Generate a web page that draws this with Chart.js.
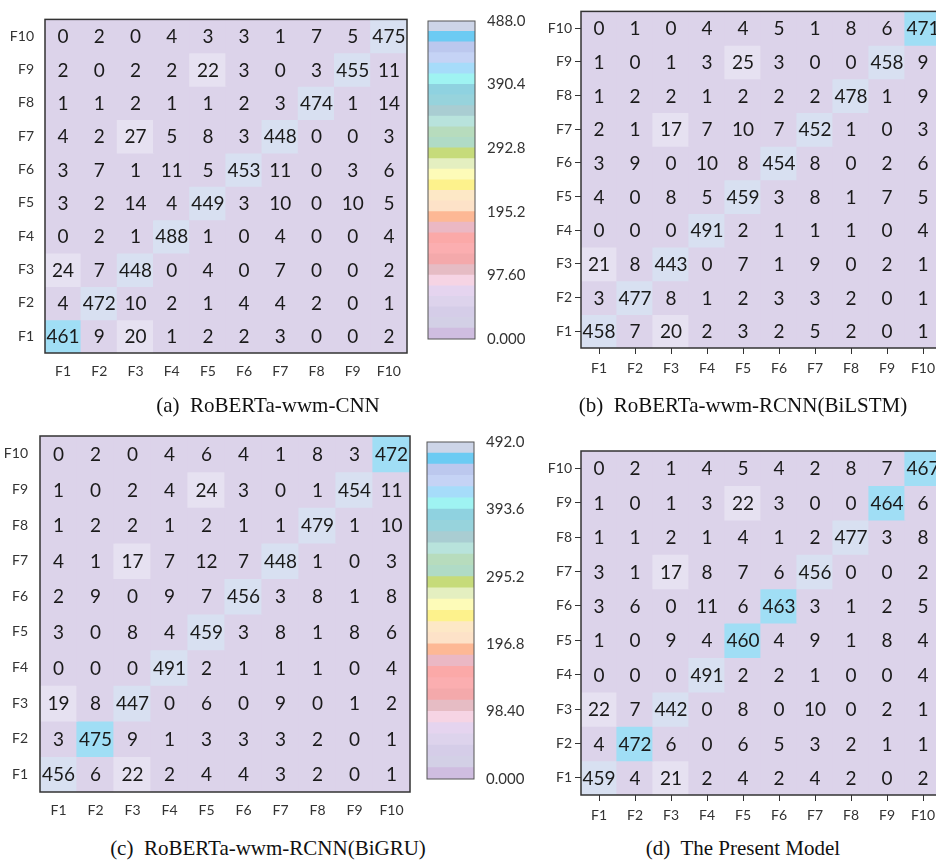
<!DOCTYPE html>
<html><head><meta charset="utf-8">
<script src="https://cdn.jsdelivr.net/npm/chart.js@4.4.1/dist/chart.umd.min.js"></script>
<style>
html,body{margin:0;padding:0;background:#fff;overflow:hidden;width:936px;height:861px;position:relative;}
canvas{position:absolute;}
.cap{position:absolute;font-family:"Liberation Serif","Times New Roman",serif;font-size:21px;line-height:24px;text-align:center;color:#111;white-space:pre;}
</style></head><body>
<canvas id="ma" width="420" height="390" style="left:0;top:0"></canvas>
<canvas id="cba" width="110" height="360" style="left:420px;top:0"></canvas>
<canvas id="mb" width="420" height="390" style="left:530px;top:0"></canvas>
<canvas id="mc" width="420" height="430" style="left:0;top:400px"></canvas>
<canvas id="cbc" width="110" height="400" style="left:420px;top:400px"></canvas>
<canvas id="md" width="420" height="430" style="left:530px;top:400px"></canvas>
<div class="cap" style="left:0;top:393px;width:536px">(a)  RoBERTa-wwm-CNN</div>
<div class="cap" style="left:486px;top:393px;width:514px">(b)  RoBERTa-wwm-RCNN(BiLSTM)</div>
<div class="cap" style="left:0;top:836px;width:536px">(c)  RoBERTa-wwm-RCNN(BiGRU)</div>
<div class="cap" style="left:486px;top:836px;width:514px">(d)  The Present Model</div>
<script>
// ---- data ----
const colLabels = ['F1','F2','F3','F4','F5','F6','F7','F8','F9','F10'];
const rowLabels = ['F10','F9','F8','F7','F6','F5','F4','F3','F2','F1']; // top to bottom

const cnnRows = [
  [0,2,0,4,3,3,1,7,5,475],
  [2,0,2,2,22,3,0,3,455,11],
  [1,1,2,1,1,2,3,474,1,14],
  [4,2,27,5,8,3,448,0,0,3],
  [3,7,1,11,5,453,11,0,3,6],
  [3,2,14,4,449,3,10,0,10,5],
  [0,2,1,488,1,0,4,0,0,4],
  [24,7,448,0,4,0,7,0,0,2],
  [4,472,10,2,1,4,4,2,0,1],
  [461,9,20,1,2,2,3,0,0,2]
];
const bilstmRows = [
  [0,1,0,4,4,5,1,8,6,471],
  [1,0,1,3,25,3,0,0,458,9],
  [1,2,2,1,2,2,2,478,1,9],
  [2,1,17,7,10,7,452,1,0,3],
  [3,9,0,10,8,454,8,0,2,6],
  [4,0,8,5,459,3,8,1,7,5],
  [0,0,0,491,2,1,1,1,0,4],
  [21,8,443,0,7,1,9,0,2,1],
  [3,477,8,1,2,3,3,2,0,1],
  [458,7,20,2,3,2,5,2,0,1]
];
const bigruRows = [
  [0,2,0,4,6,4,1,8,3,472],
  [1,0,2,4,24,3,0,1,454,11],
  [1,2,2,1,2,1,1,479,1,10],
  [4,1,17,7,12,7,448,1,0,3],
  [2,9,0,9,7,456,3,8,1,8],
  [3,0,8,4,459,3,8,1,8,6],
  [0,0,0,491,2,1,1,1,0,4],
  [19,8,447,0,6,0,9,0,1,2],
  [3,475,9,1,3,3,3,2,0,1],
  [456,6,22,2,4,4,3,2,0,1]
];
const presentRows = [
  [0,2,1,4,5,4,2,8,7,467],
  [1,0,1,3,22,3,0,0,464,6],
  [1,1,2,1,4,1,2,477,3,8],
  [3,1,17,8,7,6,456,0,0,2],
  [3,6,0,11,6,463,3,1,2,5],
  [1,0,9,4,460,4,9,1,8,4],
  [0,0,0,491,2,2,1,0,0,4],
  [22,7,442,0,8,0,10,0,2,1],
  [4,472,6,0,6,5,3,2,1,1],
  [459,4,21,2,4,2,4,2,0,2]
];
// diagonal cells drawn in bright cyan
const cnnHighlight = ['F1'];
const bilstmHighlight = ['F10'];
const bigruHighlight = ['F10','F2'];
const presentHighlight = ['F10','F9','F6','F5','F2'];

// colour bar bands, top to bottom
const cbColors = ['#cdd5e8','#6ccbf3','#bcc8ee','#c5d3f5','#a6dcfa','#9ff3f2','#8fd2e0','#97d3dc','#a9cdd2','#b8e3dc',
  '#b7dcbd','#b0dbc6','#c6db7a','#e4efc0','#fdfbb8','#fdf28c','#fde8c6','#fde2c8','#fdb895','#ebb8c4',
  '#fba9a8','#fbaeb0','#f4a9ab','#e6bcc4','#f6d4e4','#e5d4ef','#ddd3ec','#d5cde8','#d3d0e6','#cfbde0'];
const cbTicksA = [0,97.6,195.2,292.8,390.4,488];
const cbTextA = ['0.000','97.60','195.2','292.8','390.4','488.0'];
const cbTicksC = [0,98.4,196.8,295.2,393.6,492];
const cbTextC = ['0.000','98.40','196.8','295.2','393.6','492.0'];

// ---- drawing ----
Chart.defaults.font.family = 'Lato';
Chart.defaults.animation = false;

function cellFill(v, hi) {
  if (hi) return '#a0def5';
  if (v >= 400) return '#d8e0f1';
  if (v >= 15) return '#e6e1f1';
  return '#dcd3ea';
}

const cellText = {
  id: 'cellText',
  afterDatasetsDraw(chart) {
    const ctx = chart.ctx;
    ctx.save();
    ctx.font = '19px Lato';
    ctx.fillStyle = '#1a1a1a';
    ctx.textAlign = 'center';
    ctx.textBaseline = 'middle';
    chart.data.datasets.forEach((ds, di) => {
      chart.getDatasetMeta(di).data.forEach((el, j) => {
        const p = el.getProps(['x','y','base'], true);
        ctx.fillText(String(ds.counts[j]), p.x, (p.y + p.base) / 2 + 1);
      });
    });
    ctx.restore();
  }
};
const frame = {
  id: 'frame',
  afterDraw(chart, args, opts) {
    const a = chart.chartArea, ctx = chart.ctx;
    ctx.save();
    ctx.strokeStyle = opts.color || '#333';
    ctx.lineWidth = opts.width || 1.5;
    ctx.strokeRect(a.left, a.top, a.right - a.left, a.bottom - a.top);
    ctx.restore();
  }
};

function makeMatrix(id, rows, hi, L) {
  const n = rows.length;
  const datasets = rows.map((row, i) => {
    const yb = n - 1 - i;
    return {
      data: row.map(() => [yb, yb + 1]),
      counts: row,
      backgroundColor: row.map((v, j) => cellFill(v, rowLabels[i] === colLabels[j] && hi.includes(rowLabels[i]))),
      grouped: false, barPercentage: 1, categoryPercentage: 1, borderWidth: 0, inflateAmount: 0.6
    };
  });
  const tickFont = { family: 'Lato', size: 14 };
  const gridOpt = L.ticks
    ? { display: true, drawOnChartArea: false, drawTicks: true, tickLength: 6, color: '#333', lineWidth: 1, offset: false }
    : { display: false, drawTicks: false, offset: false };
  new Chart(document.getElementById(id), {
    type: 'bar',
    data: { labels: colLabels, datasets },
    options: {
      responsive: false, maintainAspectRatio: false,
      layout: { padding: { left: 0, top: L.top, right: L.right, bottom: 0 } },
      plugins: { legend: { display: false }, tooltip: { enabled: false }, frame: { color: '#333', width: 1.5 } },
      scales: {
        x: {
          grid: gridOpt, border: { display: false },
          ticks: { font: tickFont, color: '#333', padding: L.xpad, autoSkip: false, maxRotation: 0 },
          afterFit: s => { s.height = L.xh; }
        },
        y: {
          min: 0, max: n,
          grid: gridOpt, border: { display: false },
          afterBuildTicks: a => { a.ticks = rowLabels.map((_, i) => ({ value: i + 0.5 })); },
          ticks: { font: tickFont, color: '#333', padding: L.ypad, autoSkip: false,
                   callback: v => rowLabels[n - 1 - Math.floor(v)] },
          afterFit: s => { s.width = L.yw; }
        }
      }
    },
    plugins: [cellText, frame]
  });
}

function makeColorbar(id, max, tv, tt, L) {
  const bands = cbColors.slice().reverse();
  new Chart(document.getElementById(id), {
    type: 'bar',
    data: { labels: [''], datasets: bands.map(c => ({ data: [max / cbColors.length], backgroundColor: c,
      borderWidth: 0, barPercentage: 1, categoryPercentage: 1, inflateAmount: 0.6 })) },
    options: {
      responsive: false, maintainAspectRatio: false,
      layout: { padding: { left: L.left, top: L.top, right: 0, bottom: L.bottom } },
      plugins: { legend: { display: false }, tooltip: { enabled: false }, frame: { color: '#555', width: 1 } },
      scales: {
        x: { display: false, stacked: true },
        y: { stacked: true, position: 'right', min: 0, max: max,
             grid: { display: false, drawTicks: false }, border: { display: false },
             afterBuildTicks: a => { a.ticks = tv.map(v => ({ value: v })); },
             ticks: { font: { family: 'Lato', size: 15 }, color: '#333', padding: 12,
                      callback: (v, i) => tt[i] },
             afterFit: s => { s.width = L.w; } }
      }
    },
    plugins: [frame]
  });
}

makeMatrix('ma', cnnRows, cnnHighlight, { top: 6, right: 13, yw: 45, xh: 37, ypad: 11, xpad: 10, ticks: false });
makeMatrix('mb', bilstmRows, bilstmHighlight, { top: 5, right: 9, yw: 51, xh: 42, ypad: 3, xpad: 6, ticks: true });
makeMatrix('mc', bigruRows, bigruHighlight, { top: 36, right: 10, yw: 40, xh: 38, ypad: 12, xpad: 10, ticks: false });
makeMatrix('md', presentRows, presentHighlight, { top: 51, right: 9, yw: 51, xh: 35, ypad: 3, xpad: 6, ticks: true });
makeColorbar('cba', 488, cbTicksA, cbTextA, { left: 8, top: 12, bottom: 16, w: 55 });
makeColorbar('cbc', 492, cbTicksC, cbTextC, { left: 7, top: 42, bottom: 18, w: 56 });
</script>
</body></html>
